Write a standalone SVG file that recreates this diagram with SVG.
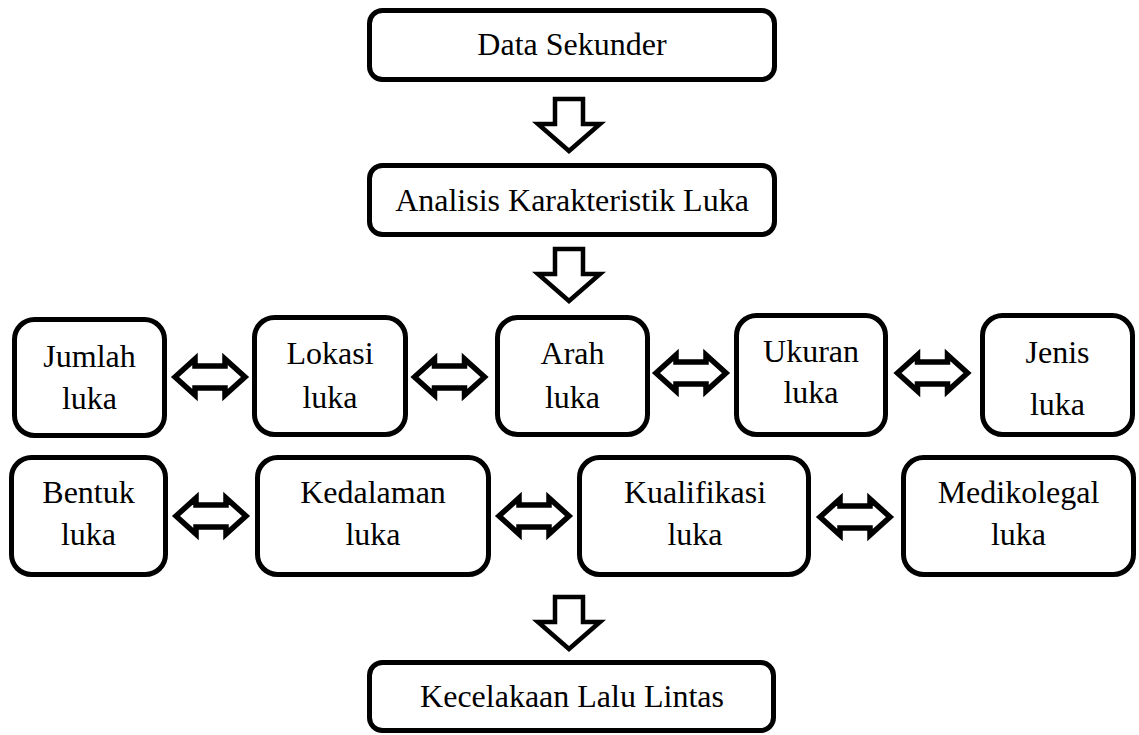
<svg xmlns="http://www.w3.org/2000/svg" width="1139" height="735" viewBox="0 0 1139 735">
<style>
.box{fill:#fff;stroke:#000;stroke-width:5}
.arr{fill:#fff;stroke:#000;stroke-width:4.5;stroke-linejoin:miter;stroke-miterlimit:6}
.dbl{stroke-width:5.5}
.t{font-family:'Liberation Serif','Times New Roman',Times,serif;font-size:32px;fill:#000;text-anchor:middle}
</style>
<defs>
<path id="down" d="M-14,0 L14,0 L14,25 L31,25 L0,52 L-31,25 L-14,25 Z"/>
<path id="dbl" d="M-35,0 L-15,-18 L-15,-11 L15,-11 L15,-18 L35,0 L15,18 L15,11 L-15,11 L-15,18 Z"/>
</defs>
<rect width="1139" height="735" fill="#fff"/>
<g id="connectors">
<use href="#down" class="arr" x="569" y="99"/>
<use href="#down" class="arr" x="569" y="249"/>
<use href="#down" class="arr" x="569" y="597"/>
<use href="#dbl" class="arr dbl" x="210" y="377"/>
<use href="#dbl" class="arr dbl" x="449.5" y="377"/>
<use href="#dbl" class="arr dbl" x="691" y="373"/>
<use href="#dbl" class="arr dbl" x="932.5" y="373"/>
<use href="#dbl" class="arr dbl" x="211" y="516"/>
<use href="#dbl" class="arr dbl" x="534" y="516"/>
<use href="#dbl" class="arr dbl" x="855" y="517"/>
</g>
<g class="t">
<g id="data-sekunder"><rect class="box" x="369.5" y="10.5" width="405" height="69" rx="13"/><text x="572" y="55">Data Sekunder</text></g>
<g id="analisis"><rect class="box" x="369.5" y="165.5" width="405" height="69" rx="13"/><text x="572" y="211">Analisis Karakteristik Luka</text></g>
<g id="jumlah"><rect class="box" x="14.5" y="319.5" width="150" height="116" rx="20"/><text x="89.5" y="367">Jumlah</text><text x="89.5" y="409">luka</text></g>
<g id="lokasi"><rect class="box" x="254.5" y="317.5" width="151" height="117" rx="20"/><text x="330" y="364">Lokasi</text><text x="330" y="408">luka</text></g>
<g id="arah"><rect class="box" x="497.5" y="317.5" width="150" height="117" rx="20"/><text x="572.5" y="364">Arah</text><text x="572.5" y="408">luka</text></g>
<g id="ukuran"><rect class="box" x="736.5" y="315.5" width="149" height="119" rx="20"/><text x="811" y="362">Ukuran</text><text x="811" y="403">luka</text></g>
<g id="jenis"><rect class="box" x="982.5" y="315.5" width="150" height="119" rx="20"/><text x="1057.5" y="363">Jenis</text><text x="1057.5" y="415">luka</text></g>
<g id="bentuk"><rect class="box" x="11.5" y="457.5" width="154" height="117" rx="20"/><text x="88.5" y="503">Bentuk</text><text x="88.5" y="545">luka</text></g>
<g id="kedalaman"><rect class="box" x="257.5" y="457.5" width="231" height="117" rx="20"/><text x="373" y="503">Kedalaman</text><text x="373" y="545">luka</text></g>
<g id="kualifikasi"><rect class="box" x="579.5" y="457.5" width="229" height="117" rx="20"/><text x="695" y="503">Kualifikasi</text><text x="695" y="545">luka</text></g>
<g id="medikolegal"><rect class="box" x="903.5" y="457.5" width="230" height="117" rx="20"/><text x="1018.5" y="503">Medikolegal</text><text x="1018.5" y="545">luka</text></g>
<g id="kecelakaan"><rect class="box" x="369.5" y="662.5" width="404" height="68" rx="13"/><text x="572" y="707">Kecelakaan Lalu Lintas</text></g>
</g>
</svg>
